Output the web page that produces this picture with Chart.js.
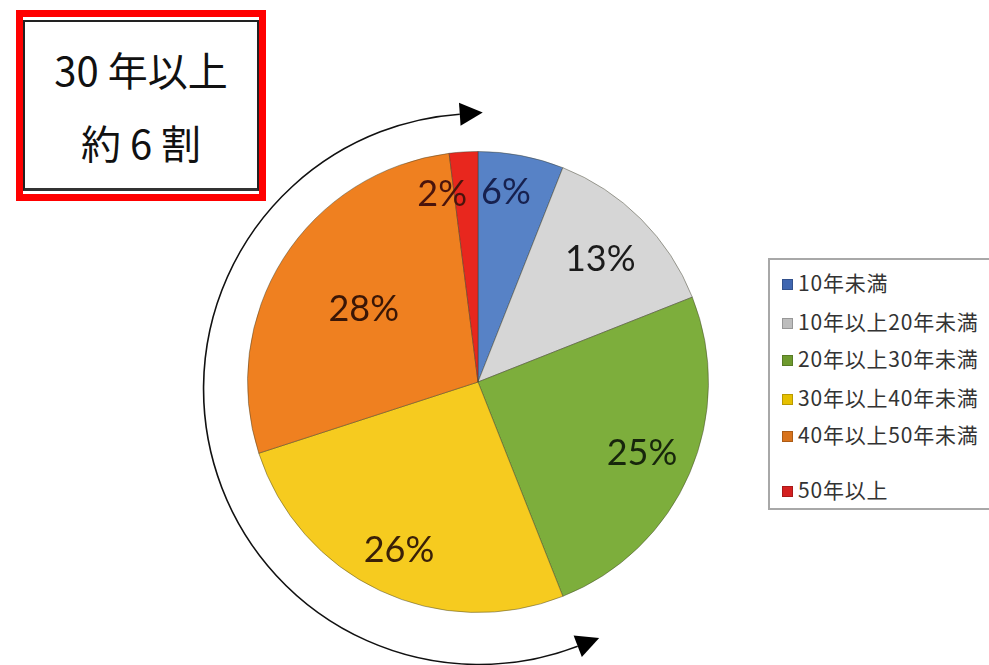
<!DOCTYPE html>
<html lang="ja">
<head>
<meta charset="utf-8">
<title>経過年数の割合</title>
<script src="https://cdn.jsdelivr.net/npm/chart.js@4.4.1/dist/chart.umd.min.js"></script>
<style>
    body { margin: 0; background: #fff; }
    .wrap { position: relative; width: 989px; height: 665px; overflow: hidden; }
    #pie { position: absolute; left: 0; top: 0; }
    .note {
        position: absolute; left: 16px; top: 10px; width: 236px; height: 177px;
        border: 7px solid #ff0000; background: #fff;
    }
    .note-inner {
        position: absolute; left: 0; top: 3px; right: 0; bottom: 3px;
        border: 2px solid #222; border-bottom: 3px solid #333;
        font-family: "Noto Sans CJK JP", sans-serif; font-size: 40px; color: #111;
        text-align: center;
    }
    .note-inner div { position: absolute; left: 0; right: 0; }
    .legend {
        position: absolute; left: 768px; top: 258px; width: 240px; height: 248px;
        border: 2px solid #a8a8a8; background: #fff;
        font-family: "Noto Sans CJK JP", sans-serif; font-size: 21px; letter-spacing: 0.8px; color: #333;
    }
    .legend .row { position: absolute; left: 12px; white-space: nowrap; line-height: 22px; }
    .legend .sw {
        display: inline-block; width: 11px; height: 11px; margin-right: 5px;
        vertical-align: 1px; box-shadow: inset 0 0 0 1px rgba(0,0,0,0.2);
    }
</style>
</head>
<body>
<div class="wrap">
    <canvas id="pie" width="989" height="665"></canvas>
    <div class="note"><div class="note-inner">
        <div style="top: 18px;">30 年以上</div>
        <div style="top: 91px;">約 6 割</div>
    </div></div>
    <div class="legend" id="legend"></div>
</div>
<script>
// 経過年数の区分と割合（%）
const categories = ['10年未満', '10年以上20年未満', '20年以上30年未満', '30年以上40年未満', '40年以上50年未満', '50年以上'];
const shares = [6, 13, 25, 26, 28, 2];

const sliceColors = ['#5782c6', '#d6d6d6', '#7dae3c', '#f6cb1f', '#ef8020', '#e8271e'];
const edgeColors = ['#34558f', '#a9a9a9', '#557a22', '#d3a40c', '#c8600f', '#b31510'];
const swatchColors = ['#3f66b0', '#bdbdbd', '#6e9a2e', '#e6c000', '#d8731c', '#d42020'];
const labelColors = ['#17214f', '#1b1b1b', '#17260c', '#3a2008', '#3a1606', '#4a140c'];
// ラベル位置：外径に対する半径比と、扇の中心角からのずれ（度）
const labelRadius = [0.83, 0.75, 0.775, 0.805, 0.587, 0.83];
const labelShift = [-2.4, 0, 0, 0, 0, -7.2];

// legend rows
const legend = document.getElementById('legend');
const rowTops = [11, 50, 87, 126, 163, 218];
categories.forEach((name, i) => {
    const row = document.createElement('div');
    row.className = 'row';
    row.style.top = rowTops[i] + 'px';
    row.innerHTML = '<span class="sw" style="background:' + swatchColors[i] + '"></span>' + name;
    legend.appendChild(row);
});

// slight bevel toward the rim of each slice
function sliceFill(ctx) {
    const el = ctx.element;
    const i = ctx.dataIndex;
    if (!el || !el.outerRadius) return sliceColors[i];
    const g = ctx.chart.ctx.createRadialGradient(el.x, el.y, 0, el.x, el.y, el.outerRadius);
    g.addColorStop(0, sliceColors[i]);
    g.addColorStop(0.93, sliceColors[i]);
    g.addColorStop(1, edgeColors[i]);
    return g;
}

const pctLabels = {
    id: 'pctLabels',
    afterDatasetsDraw(chart) {
        const ctx = chart.ctx;
        const arcs = chart.getDatasetMeta(0).data;
        ctx.save();
        ctx.font = '36px Lato, "Open Sans", sans-serif';
        ctx.textAlign = 'center';
        ctx.textBaseline = 'middle';
        arcs.forEach((arc, i) => {
            const mid = (arc.startAngle + arc.endAngle) / 2 + labelShift[i] * Math.PI / 180;
            const r = arc.outerRadius * labelRadius[i];
            ctx.fillStyle = labelColors[i];
            ctx.fillText(shares[i] + '%', arc.x + Math.cos(mid) * r, arc.y + Math.sin(mid) * r);
        });
        ctx.restore();
    }
};

// double-headed arc around the 30-year-and-over slices
const spanArrow = {
    id: 'spanArrow',
    afterDraw(chart) {
        const arc = chart.getDatasetMeta(0).data[0];
        const ctx = chart.ctx;
        const cx = arc.x + 1;
        const cy = arc.y + 7;
        const r = arc.outerRadius * 1.195;
        const a0 = 69 * Math.PI / 180;
        const a1 = 266 * Math.PI / 180;
        ctx.save();
        ctx.strokeStyle = '#111';
        ctx.lineWidth = 1.6;
        ctx.beginPath();
        ctx.arc(cx, cy, r, a0, a1, false);
        ctx.stroke();

        const head = (a, dir) => {
            const bx = cx + Math.cos(a) * r;
            const by = cy + Math.sin(a) * r;
            const tx = -Math.sin(a) * dir;
            const ty = Math.cos(a) * dir;
            const len = 23, half = 11.5;
            ctx.beginPath();
            ctx.moveTo(bx + tx * len, by + ty * len);
            ctx.lineTo(bx - ty * half, by + tx * half);
            ctx.lineTo(bx + ty * half, by - tx * half);
            ctx.closePath();
            ctx.fill();
        };
        ctx.fillStyle = '#000';
        head(a1, 1);
        head(a0, -1);
        ctx.restore();
    }
};

new Chart(document.getElementById('pie'), {
    type: 'pie',
    data: {
        labels: categories,
        datasets: [{
            data: shares,
            backgroundColor: sliceFill,
            borderColor: 'rgba(60,60,40,0.45)',
            borderWidth: 1
        }]
    },
    options: {
        responsive: false,
        animation: false,
        layout: { padding: { left: 247, top: 151, right: 280, bottom: 52 } },
        plugins: {
            legend: { display: false },
            tooltip: { enabled: false }
        }
    },
    plugins: [pctLabels, spanArrow]
});
</script>
</body>
</html>
